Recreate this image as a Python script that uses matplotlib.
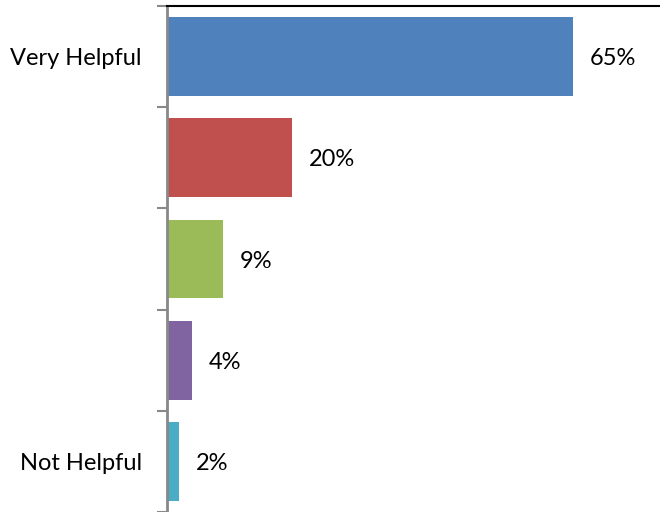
import matplotlib.pyplot as plt
import numpy as np

categories = ["Very Helpful", "", "", "", "Not Helpful"]
values = [65, 20, 9, 4, 2]
colors = ["#4F81BD", "#C0504D", "#9BBB59", "#8064A2", "#4BACC6"]

plt.rcParams['font.family'] = ['Lato', 'DejaVu Sans']

fig = plt.figure(figsize=(6.6, 5.12), dpi=100)
ax = fig.add_axes([167 / 660, 0.0, 1 - 167 / 660 + 0.01, 1 - 6 / 512])

y = np.arange(len(values))
bars = ax.barh(y, values, height=0.78, color=colors)
ax.set_ylim(len(values) - 0.5, -0.5)
ax.set_xlim(0, 80)

# value labels just right of each bar
for b, v in zip(bars, values):
    ax.annotate(f"{v}%", (b.get_width(), b.get_y() + b.get_height() / 2),
                xytext=(12, -1.5), textcoords="offset points",
                va="center", ha="left", fontsize=17)

ax.set_yticks(y)
ax.set_yticklabels(categories, fontsize=17)
ax.tick_params(axis="y", which="major", length=0, pad=18)
ax.set_yticks(np.arange(len(values) + 1) - 0.5, minor=True)
ax.tick_params(axis="y", which="minor", length=7, width=1.5, color="#888888")
ax.set_xticks([])

for s in ["right", "bottom"]:
    ax.spines[s].set_visible(False)
ax.spines["left"].set_color("#888888")
ax.spines["left"].set_linewidth(2)
ax.spines["top"].set_color("black")
ax.spines["top"].set_linewidth(1.5)

fig.savefig("out.png", dpi=100)
